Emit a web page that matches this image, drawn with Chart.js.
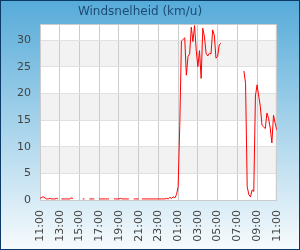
<!DOCTYPE html>
<html lang="nl">
  <head>
    <meta charset="UTF-8" />
    <script src="https://cdn.jsdelivr.net/npm/chart.js"></script>
    <title>Windsnelheid</title>
    <style>
      html, body {
        margin: 0;
        padding: 0;
        background: #ffffff;
      }
      #chart {
        display: block;
      }
    </style>
  </head>
  <body>
    <canvas id="chart" width="300" height="250"></canvas>

    <script>
      // tick labels along the bottom, one every 2 hours (12 samples)
      const tickLabels = ["11:00", "13:00", "15:00", "17:00", "19:00", "21:00", "23:00",
                          "01:00", "03:00", "05:00", "07:00", "09:00", "11:00"];
      const samplesPerTick = 12; // one sample every 10 minutes

      // wind speed in km/u, one value per 10 minutes, null = no measurement
      const windSpeed = [
        0.3, 0.5, 0.6, 0.4, 0.2, 0.2, 0.3, 0.2, 0.2, 0.2, 0.3, 0.2,
        null, 0.2, 0.2, 0.2, 0.2, 0.2, 0.2, 0.4, 0.3, null, null, null,
        null, null, 0.2, 0.2, null, null, 0.2, 0.2, 0.2, 0.2, null, null,
        0.2, 0.2, 0.2, 0.2, 0.2, 0.2, 0.2, null, null, 0.2, 0.2, 0.2,
        0.2, 0.3, 0.2, 0.2, 0.2, 0.2, 0.2, null, null, 0.2, 0.2, 0.2,
        0.2, null, 0.2, 0.2, 0.2, 0.2, 0.2, 0.2, 0.2, 0.2, 0.2, 0.2,
        0.2, 0.2, 0.2, 0.2, 0.2, 0.3, 0.2, 0.5, 0.3, 0.6, 0.4, 1.0,
        2.5, 14.0, 29.8, 30.1, 30.4, 23.4, 26.9, 27.4, 32.4, 29.7, 32.7, 28.1,
        25.0, 28.0, 22.8, 32.2, 30.6, 27.5, 27.0, 27.5, 27.4, 31.9, 30.9, 26.6,
        26.9, 29.1, 29.4, null, null, null, null, null, null, null, null, null,
        null, null, null, null, 24.2, 21.9, 2.5, 1.0, 0.6, 1.9, 1.6, 19.5,
        21.6, 19.5, 17.5, 14.0, 13.7, 13.4, 16.3, 15.3, 13.5, 10.7, 15.9, 14.4,
        13.1
      ];

      const yMax = 33;
      const yStep = 5;
      const bands = [[5, 10], [15, 20], [25, 30]];

      const points = windSpeed.map((v, i) => ({ x: i, y: v }));

      // gradient background, frame, plot area bands
      const backdrop = {
        id: 'backdrop',
        beforeDraw(chart) {
          const { ctx, width, height, chartArea: a, scales } = chart;
          ctx.save();
          const g = ctx.createLinearGradient(0, 0, 0, height);
          g.addColorStop(0, '#56abd9');
          g.addColorStop(1, '#f7fbfd');
          ctx.fillStyle = g;
          ctx.fillRect(0, 0, width, height);
          ctx.strokeStyle = '#0b3a66';
          ctx.lineWidth = 1;
          ctx.strokeRect(0.5, 0.5, width - 1, height - 1);

          ctx.fillStyle = '#ffffff';
          ctx.fillRect(a.left, a.top, a.right - a.left, a.bottom - a.top);
          ctx.fillStyle = '#f2f2f2';
          bands.forEach(([lo, hi]) => {
            const y1 = scales.y.getPixelForValue(hi);
            const y2 = scales.y.getPixelForValue(lo);
            ctx.fillRect(a.left, y1, a.right - a.left, y2 - y1);
          });
          ctx.restore();
        },
        beforeDatasetsDraw(chart) {
          const { ctx, chartArea: a } = chart;
          ctx.save();
          ctx.strokeStyle = '#cccccc';
          ctx.lineWidth = 1;
          ctx.strokeRect(a.left + 0.5, a.top + 0.5, a.right - a.left - 1, a.bottom - a.top);
          ctx.restore();
        }
      };

      new Chart(document.getElementById('chart'), {
        type: 'line',
        data: {
          datasets: [{
            label: 'Windsnelheid',
            data: points,
            borderColor: '#ff0000',
            borderWidth: 1,
            pointRadius: 0,
            tension: 0,
            spanGaps: false,
            fill: false
          }]
        },
        options: {
          responsive: false,
          animation: false,
          layout: { padding: { left: 0, right: 20, top: 0, bottom: 0 } },
          plugins: {
            legend: { display: false },
            tooltip: { enabled: false },
            title: {
              display: true,
              text: 'Windsnelheid (km/u)',
              color: '#1d4b74',
              font: { family: 'DejaVu Sans', size: 12, weight: 'normal' },
              padding: { top: 5, bottom: 4.6 }
            }
          },
          scales: {
            x: {
              type: 'linear',
              min: 0,
              max: (tickLabels.length - 1) * samplesPerTick,
              afterFit(scale) { scale.height = 50; },
              grid: { color: '#cccccc', drawTicks: false },
              border: { color: '#cccccc' },
              ticks: {
                stepSize: samplesPerTick,
                autoSkip: false,
                maxRotation: 90,
                minRotation: 90,
                padding: 10,
                color: '#444444',
                font: { family: 'DejaVu Sans', size: 11 },
                callback: (v) => tickLabels[Math.round(v / samplesPerTick)]
              }
            },
            y: {
              min: 0,
              max: yMax,
              afterFit(scale) { scale.width = 40; },
              grid: { color: '#e0e0e0', drawTicks: false },
              border: { color: '#cccccc' },
              ticks: {
                stepSize: yStep,
                includeBounds: false,
                padding: 9,
                color: '#444444',
                font: { family: 'DejaVu Sans', size: 11 }
              }
            }
          }
        },
        plugins: [backdrop]
      });
    </script>
  </body>
</html>
